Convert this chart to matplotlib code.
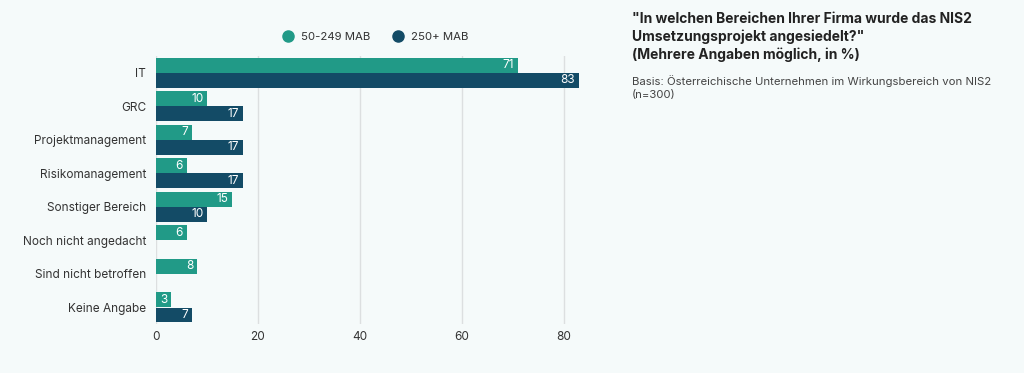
import numpy as np
import matplotlib.pyplot as plt
from matplotlib.lines import Line2D

plt.rcParams['font.family'] = ['Inter', 'DejaVu Sans']

categories = ['IT', 'GRC', 'Projektmanagement', 'Risikomanagement', 'Sonstiger Bereich',
              'Noch nicht angedacht', 'Sind nicht betroffen', 'Keine Angabe']
small = [71, 10, 7, 6, 15, 6, 8, 3]
large = [83, 17, 17, 17, 10, np.nan, np.nan, 7]
series_names = ['50-249 MAB', '250+ MAB']
xticks = [0, 20, 40, 60, 80]

bg = '#f5fafa'
teal = '#219a87'
navy = '#134b66'

fig = plt.figure(figsize=(10.24, 3.73), dpi=100, facecolor=bg)
ax = fig.add_axes([0.1523, 0.131, 0.418, 0.719], facecolor=bg)

y = np.arange(len(categories))
h = 0.44
b1 = ax.barh(y - 0.225, small, height=h, color=teal)
b2 = ax.barh(y + 0.225, large, height=h, color=navy)

for bars, vals in [(b1, small), (b2, large)]:
    for bar, v in zip(bars, vals):
        if np.isnan(v):
            continue
        ax.text(v - 0.7, bar.get_y() + bar.get_height() / 2, f'{v:g}',
                ha='right', va='center', color='white', fontsize=8.5)

ax.set_xlim(0, 84)
ax.set_ylim(7.5, -0.5)
ax.set_yticks(y)
ax.set_yticklabels(categories, fontsize=8.5, color='#333333')
ax.set_xticks(xticks)
ax.set_xticklabels([str(t) for t in xticks], fontsize=8.5, color='#333333')
ax.tick_params(length=0, pad=5)
ax.tick_params(axis='y', pad=7)
ax.grid(axis='x', color='#dcdfe0', linewidth=1)
ax.set_axisbelow(True)
for s in ax.spines.values():
    s.set_visible(False)

handles = [Line2D([], [], marker='o', linestyle='', markersize=8, color=c)
           for c in (teal, navy)]
fig.legend(handles, series_names, loc='center', bbox_to_anchor=(0.364, 0.9),
           ncol=2, frameon=False, fontsize=8.2, handletextpad=0.15,
           columnspacing=1.4, labelcolor='#333333')

fig.text(0.617, 0.968, '"In welchen Bereichen Ihrer Firma wurde das NIS2\n'
         'Umsetzungsprojekt angesiedelt?"\n(Mehrere Angaben möglich, in %)',
         ha='left', va='top', fontsize=10, fontweight='bold', color='#222222',
         linespacing=1.3)
fig.text(0.617, 0.8, 'Basis: Österreichische Unternehmen im Wirkungsbereich von NIS2\n(n=300)',
         ha='left', va='top', fontsize=8.2, color='#444444', linespacing=1.45)

fig.savefig('out.png', dpi=100, facecolor=bg)
